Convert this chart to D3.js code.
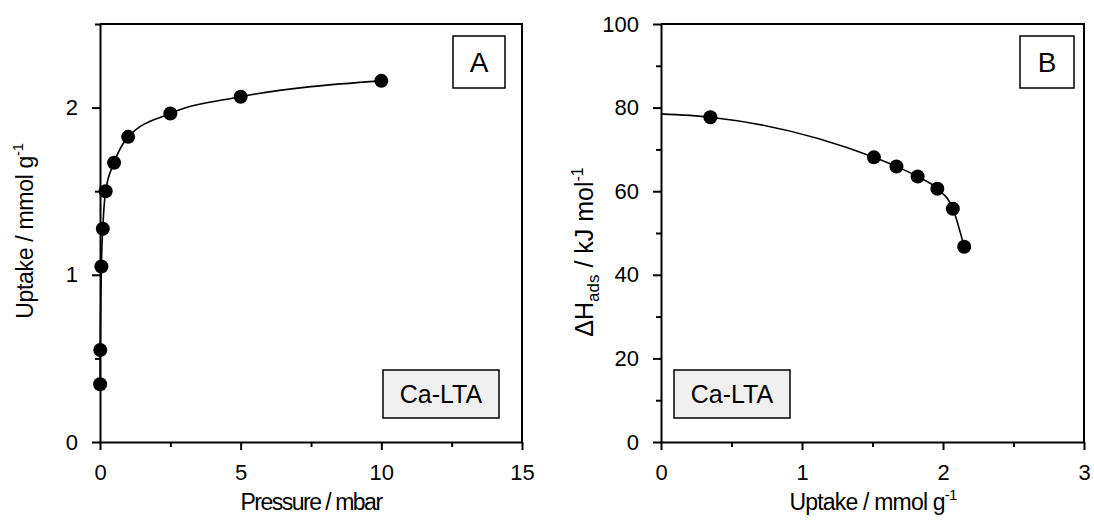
<!DOCTYPE html>
<html>
<head>
<meta charset="utf-8">
<script src="https://cdn.jsdelivr.net/npm/d3@7"></script>
<style>
  html, body { margin: 0; padding: 0; background: #fff; }
  svg { display: block; font-family: "Liberation Sans", Arial, sans-serif; }
  .axis path, .axis line { stroke: #000; stroke-width: 2px; }
  .axis text { font-size: 22px; fill: #000; }
</style>
</head>
<body>
<svg id="chart" width="1094" height="520"></svg>
<script>
// Panel A: CO2 adsorption isotherm on Ca-LTA
const pressure = [0.005, 0.01, 0.05, 0.1, 0.2, 0.5, 1, 2.5, 5, 10];          // mbar
const uptakeIso = [0.345, 0.55, 1.05, 1.275, 1.50, 1.67, 1.825, 1.965, 2.065, 2.16]; // mmol/g

// Panel B: isosteric heat of adsorption vs. loading
const uptakeHeat = [0.35, 1.51, 1.67, 1.82, 1.96, 2.07, 2.15]; // mmol/g
const heat = [77.7, 68.1, 65.9, 63.5, 60.6, 55.8, 46.7];          // kJ/mol
const heatFitStart = [0, 78.5];                                   // fit intercept at zero loading

// Axis ticks
const ticksAx = [0, 5, 10, 15], minorAx = [2.5, 7.5, 12.5];
const ticksAy = [0, 1, 2], minorAy = [0.5, 1.5, 2.5];
const ticksBx = [0, 1, 2, 3], minorBx = [0.5, 1.5, 2.5];
const ticksBy = [0, 20, 40, 60, 80, 100], minorBy = [10, 30, 50, 70, 90];

const svg = d3.select("#chart");

function panel(opts) {
  const { left, right, top, bottom, xDomain, yDomain } = opts;
  const x = d3.scaleLinear().domain(xDomain).range([left, right]);
  const y = d3.scaleLinear().domain(yDomain).range([bottom, top]);
  const g = svg.append("g");

  // frame (top and right edges)
  g.append("path")
    .attr("d", `M${left},${top}H${right}V${bottom}`)
    .attr("fill", "none").attr("stroke", "#000").attr("stroke-width", 2);

  // minor ticks
  g.append("g").attr("class", "axis").attr("transform", `translate(0,${bottom})`)
    .call(d3.axisBottom(x).tickValues(opts.xMinor).tickSize(5).tickFormat(""))
    .call(s => s.select(".domain").remove());
  g.append("g").attr("class", "axis").attr("transform", `translate(${left},0)`)
    .call(d3.axisLeft(y).tickValues(opts.yMinor).tickSize(5).tickFormat(""))
    .call(s => s.select(".domain").remove());

  // major axes
  g.append("g").attr("class", "axis").attr("transform", `translate(0,${bottom})`)
    .call(d3.axisBottom(x).tickValues(opts.xTicks).tickSize(8).tickSizeOuter(0).tickPadding(14).tickFormat(d3.format("d")))
    .call(s => s.selectAll("text").attr("font-family", null));
  g.append("g").attr("class", "axis").attr("transform", `translate(${left},0)`)
    .call(d3.axisLeft(y).tickValues(opts.yTicks).tickSize(8).tickSizeOuter(0).tickPadding(14).tickFormat(d3.format("d")))
    .call(s => s.selectAll("text").attr("font-family", null));

  // fitted curve
  g.append("path")
    .datum(opts.curve)
    .attr("fill", "none").attr("stroke", "#000").attr("stroke-width", 1.6)
    .attr("d", d3.line().x(d => x(d[0])).y(d => y(d[1])).curve(d3.curveMonotoneX));

  // data points
  g.selectAll("circle.pt").data(opts.points).join("circle")
    .attr("class", "pt")
    .attr("cx", d => x(d[0])).attr("cy", d => y(d[1])).attr("r", 7)
    .attr("fill", "#000");

  return { g, x, y };
}

const A = panel({
  left: 100, right: 522, top: 24, bottom: 442,
  xDomain: [0, 15], yDomain: [0, 2.5],
  xTicks: ticksAx, xMinor: minorAx, yTicks: ticksAy, yMinor: minorAy,
  points: pressure.map((p, i) => [p, uptakeIso[i]]),
  curve: pressure.map((p, i) => [p, uptakeIso[i]])
});

const B = panel({
  left: 661, right: 1084, top: 24, bottom: 442,
  xDomain: [0, 3], yDomain: [0, 100],
  xTicks: ticksBx, xMinor: minorBx, yTicks: ticksBy, yMinor: minorBy,
  points: uptakeHeat.map((u, i) => [u, heat[i]]),
  curve: [heatFitStart].concat(uptakeHeat.map((u, i) => [u, heat[i]]))
});

// panel letters
function letterBox(x0, y0, w, h, txt) {
  svg.append("rect").attr("x", x0).attr("y", y0).attr("width", w).attr("height", h)
    .attr("fill", "#fff").attr("stroke", "#000").attr("stroke-width", 1.5);
  svg.append("text").attr("x", x0 + w / 2).attr("y", y0 + h / 2 + 10)
    .attr("text-anchor", "middle").attr("font-size", 28).text(txt);
}
letterBox(453, 36, 52, 52, "A");
letterBox(1020, 36, 54, 52, "B");

// sample labels
function sampleBox(x0, y0, w, h, txt) {
  svg.append("rect").attr("x", x0).attr("y", y0).attr("width", w).attr("height", h)
    .attr("fill", "#f0f0f0").attr("stroke", "#000").attr("stroke-width", 1.5);
  svg.append("text").attr("x", x0 + w / 2).attr("y", y0 + h / 2 + 9)
    .attr("text-anchor", "middle").attr("font-size", 25).text(txt);
}
sampleBox(383, 370, 116, 48, "Ca-LTA");
sampleBox(674, 370, 116, 48, "Ca-LTA");

// axis titles
const xTitleA = svg.append("text").attr("x", 311).attr("y", 510)
  .attr("text-anchor", "middle").attr("font-size", 23).attr("letter-spacing", -1.5)
  .text("Pressure / mbar");

const xTitleB = svg.append("text").attr("x", 873).attr("y", 510)
  .attr("text-anchor", "middle").attr("font-size", 23).attr("letter-spacing", -0.8);
xTitleB.append("tspan").text("Uptake / mmol g");
xTitleB.append("tspan").attr("font-size", 15).attr("dy", -10).text("-1");

const yTitleA = svg.append("text")
  .attr("transform", "translate(33,231) rotate(-90)")
  .attr("text-anchor", "middle").attr("font-size", 23).attr("letter-spacing", -0.3);
yTitleA.append("tspan").text("Uptake / mmol g");
yTitleA.append("tspan").attr("font-size", 15).attr("dy", -10).text("-1");

const yTitleB = svg.append("text")
  .attr("transform", "translate(593,252) rotate(-90)")
  .attr("text-anchor", "middle").attr("font-size", 25);
yTitleB.append("tspan").text("\u0394H");
yTitleB.append("tspan").attr("font-size", 17).attr("dy", 6).text("ads");
yTitleB.append("tspan").attr("dy", -6).text(" / kJ mol");
yTitleB.append("tspan").attr("font-size", 16).attr("dy", -10).text("-1");
</script>
</body>
</html>
